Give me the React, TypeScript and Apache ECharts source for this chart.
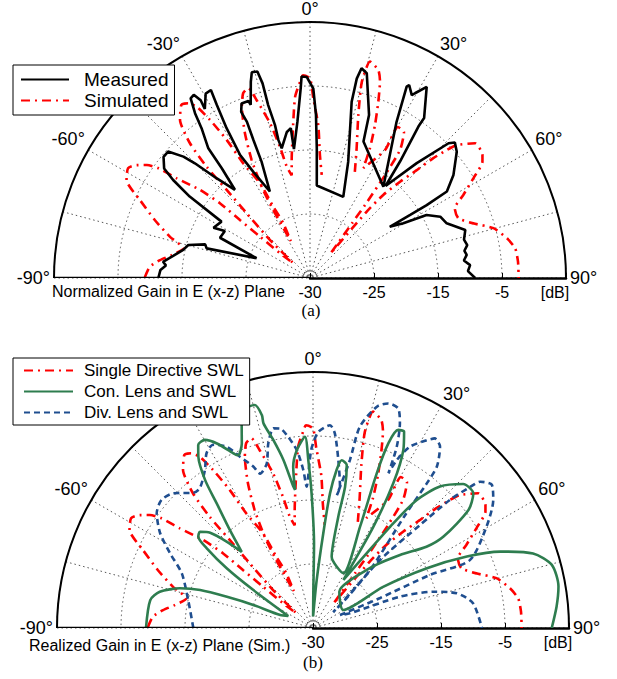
import React, { useEffect, useRef } from "react";
import * as echarts from "echarts";

const FONT = '"Liberation Sans", Arial, Helvetica, sans-serif';
const SERIF = '"Liberation Serif", "Times New Roman", serif';

// Angle (deg, 0 = broadside, + to the right), level (dB on the plot's linear radial scale)
const measuredE: ([number, number] | null)[] = [
  [-90, -11.3], [-86.9, -11.6], [-85, -12.4], [-83.7, -11.9], [-82, -12.8], [-80.7, -13.4],
  [-77.5, -14.7], [-74.8, -15.3], [-72.2, -17.8], [-74, -18.2], [-69.7, -26.1], [-65.9, -19.6],
  [-61.1, -19.8], [-62.5, -18.0], [-57.5, -18.6], [-55.9, -12.3], [-54.4, -8.7], [-53.1, -6.5],
  [-50.4, -5.3], [-48.3, -5.3], [-46.2, -7.6], [-45.1, -9.6], [-43.1, -13.7], [-40.4, -16.9],
  [-38.8, -13.0], [-38.1, -9.25], [-35.9, -6.1], [-34.9, -3.6], [-33.6, -1.3], [-32.4, -1.1],
  [-31.6, -2.4], [-31.9, -3.9], [-29.5, -1.9], [-27.8, -1.8], [-28.3, -4.3], [-29.1, -8.2],
  [-29.6, -12.9], [-28.1, -16.2], [-24.9, -20.1], [-22.6, -15.3], [-22.3, -11.7], [-22.0, -8.7],
  [-22.5, -6.9], [-21.4, -5.7], [-19.2, -5.7], [-18.9, -6.4], [-16.8, -3.0], [-15.8, -1.6],
  [-14.3, -1.7], [-13.7, -3.7], [-13.6, -7.2], [-12.9, -10.5], [-12.9, -12.9], [-12.3, -14.25],
  [-9.0, -11.9], [-7.3, -11.4], [-7.1, -14.7], [-4.6, -10.5], [-2.8, -5.3], [-2.4, -3.5],
  [-0.9, -3.6], [1.0, -5.4], [2.1, -9.5], [3.0, -14.7], [4.2, -20.5], [22.3, -21.3],
  [18.2, -15.9], [13.3, -6.7], [13.2, -3.0], [13.8, -1.25], [15.5, -1.8], [19.9, -7.9],
  [21.4, -12.1], [38.8, -16.7], [29.0, -7.1], [26.8, -1.5], [27.2, -1.1], [29.1, -2.3],
  [29.6, -1.8], [31.4, 0.0], [35.5, -4.3], [35.6, -5.9], [37.7, -12.0], [39.4, -16.4],
  [42.9, -10.5], [45.8, -4.8], [46.9, -4.0], [49.3, -4.75], [54.3, -7.4], [57.7, -9.7],
  [58.0, -13.5], [57.8, -16.5], [57.3, -20.2], [59.6, -18.1], [61.6, -14.3], [64.8, -12.5],
  [68.2, -12.0], [72.8, -9.6], [76, -10.2], [78.2, -9.9], [80, -10.5], [81.6, -10.25],
  [83.5, -10.8], [85.4, -9.9], [87.5, -10.3], [90, -9.2],
];

const simulatedSWL: ([number, number] | null)[] = [
  [-89.7, -9.2], [-86, -9.9], [-83.2, -11.4], [-80.6, -13.1], [-76.8, -14.7], [-73.6, -12.2],
  [-69.5, -9.1], [-65.4, -5.8], [-61.9, -2.5], [-58.9, -1.8], [-56.9, -2.7], [-55.3, -4.0],
  [-54.1, -5.75], [-53.2, -9.0], [-51.3, -13.0], [-50.3, -16.7], [-50.4, -20.8], [-50.4, -24.9],
  [-50.5, -28.9], [-48.5, -31.5], [-46.5, -26.4], [-44.4, -20.9], [-43.4, -16.1], [-42.9, -11.3],
  [-41.7, -6.8], [-39.4, -3.0], [-36.6, -1.3], [-34.9, -1.7], [-33.5, -2.9], [-32.3, -5.8],
  [-31.1, -9.8], [-30.2, -14.3], [-27.8, -18.3], [-27.2, -22.5], [-26.0, -25.5], [-27.5, -28.5],
  [-28.4, -22.9], [-27.9, -18.9], [-26.3, -14.4], [-24.2, -10.2], [-21.7, -6.2], [-19.9, -4.3],
  [-18.0, -3.8], [-16.7, -6.0], [-14.5, -10.0], [-12.9, -14.0], [-11.8, -17.2], [-10.1, -18.7],
  [-8.8, -16.3], [-6.2, -10.7], [-4.7, -6.6], [-2.9, -4.3], [-2.0, -3.3], [0, -3.8],
  [1.05, -6.9], [3.1, -11.1], [4.6, -15.7], [6.5, -18.8], null,
  [22.9, -17.0], [19.8, -13.5], [16.5, -8.4], [14.8, -3.3], [15.5, 0.1], [18.2, -0.8],
  [19.6, -2.4], [21.2, -5.5], [23.0, -9.0], [24.8, -12.7], [25.9, -15.9], [30.4, -11.8],
  [30.2, -7.7], [32.8, -7.9], [35.1, -10.5], [36.1, -15.1], [37.0, -20.7], [37.5, -24],
  [40, -30], [40.5, -21.4], [41.4, -17.7], [43.1, -14.4], [44.7, -11.3], [45.8, -8.2],
  [46.9, -5.7], [47.8, -4.1], [50.8, -1.7], [54.5, -1.9], [56.0, -2.5], [58.6, -5.1],
  [61.6, -7.8], [64.3, -9.9], [68.1, -10.0], [71.5, -8.1], [74.8, -5.3], [78.6, -3.6],
  [81.8, -2.6], [85.5, -2.4], [90, -2.4],
];

const conLensSWL: ([number, number] | null)[] = [
  [-90, -8.9], [-80.3, -9.2], [-76.7, -10.4], [-73.4, -13.3], [-71.4, -16.4], [-70.1, -20.7],
  [-68.9, -25.0], [-68.5, -29.5], [-64.1, -30.7], [-57.5, -23.9], [-55.3, -18.6], [-53.1, -14.2],
  [-51.5, -12.1], [-49.6, -11.8], [-47.2, -13.1], [-45, -15.9], [-43.1, -18.7], [-40.3, -14.9],
  [-37.7, -10.4], [-36.1, -6.4], [-33.8, -2.8], [-32.1, -1.25], [-29.9, -1.1], [-27.5, -2.5],
  [-24.5, -5.0], [-23.4, -5.6], [-21.1, -4.1], [-19.2, -1.1], [-17.8, 0.8], [-14.6, 1.0],
  [-13.5, -0.8], [-13.6, -2.1], [-11.9, -5.0], [-10.0, -8.3], [-7.9, -12.7], [-7.4, -13.25],
  [-7.0, -9.6], [-5.2, -7.1], [-2.4, -5.1], [-1.6, -8.75], [-0.6, -14.0], [0.7, -21.8],
  [0.5, -29.6], [0.5, -33.2], [4.4, -27.5], [6.2, -20.1], [7.2, -13.8], [8.5, -10.0],
  [9.7, -8.4], [11.7, -9.0], [12.8, -12.4], [12.8, -17.2], [14.7, -23.5], [29.0, -25.2],
  [24.9, -17.5], [22.4, -8.9], [22.2, -3.8], [23.3, -1.3], [24.9, -1.2], [26.9, -3.8],
  [29.0, -9.1], [30.8, -16.6], [32.3, -26.1], [35.7, -20.6], [37.5, -14.4], [39.0, -9.3],
  [41.9, -5.3], [46.2, -2.5], [50.0, -2.3], [52.8, -4.5], [55.0, -10.1], [54.4, -13.2],
  [50, -17.25], [43.5, -22.1], [36, -28], [59.3, -29.5], [59.6, -22.3], [62.3, -14.9],
  [65.1, -8.5], [67.8, -3.4], [71.3, 1.3], [75.2, 3.6], [80.4, 3.9], [85.0, 3.2], [90, 2.3],
];

const divLensSWL: ([number, number] | null)[] = [
  [-90, -16.3], [-77.3, -15.0], [-67.4, -12.8], [-62.4, -9.8], [-58.2, -6.9], [-53.7, -4.7],
  [-49.8, -4.0], [-46.0, -4.7], [-41.5, -6.8], [-39.0, -6.9], [-34.4, -5.1], [-31.3, -3.0],
  [-28.6, -2.4], [-25.5, -3.6], [-23.1, -5.9], [-20.3, -8.1], [-18.9, -9.5], [-15.7, -8.3],
  [-13.6, -5.3], [-11.2, -3.2], [-9.4, -3.4], [-7.4, -4.9], [-5.2, -7.1], [-3.5, -10.3],
  [-2.6, -12.9], [-0.6, -7.2], [1.5, -4.4], [4.8, -3.2], [6.4, -4.4], [8.6, -8.5],
  [10.8, -12.5], [10.2, -13.9], [12.4, -8.1], [13.1, -2.7], [16.1, 1.0], [18.5, 2.0],
  [21.2, 1.8], [23.0, -0.25], [24.8, -3.8], [26.0, -8.1], [26.5, -5.7], [28.1, -2.9],
  [31.2, -0.7], [32.7, 0.2], [35.0, -0.4], [37.5, -3.2], [38.2, -6.25], [39.2, -12.2],
  [44.5, -22.3], [52, -31.0], [48.8, -28.4], [44.6, -20.1], [46.1, -11.8], [46.9, -5.7],
  [48.1, -2.0], [48.8, -0.3], [51.3, 0.8], [54.6, -0.45], [59.7, -3.6], [66.6, -8.3],
  [65.6, -14.9], [65.9, -23.5], [64.3, -30.3], [68.3, -28.8], [70.2, -20.5], [73.2, -15.4],
  [76.4, -11.9], [81.2, -9.7], [90, -8.6],
];

const radialTicks = [-35, -25, -15, -5, 5];
const radialTickLabels = ["-30", "-25", "-15", "-5", "[dB]"];
const angleLabelStep = 30;

const toPolar = (pts: ([number, number] | null)[]) =>
  pts.map((p) => (p === null ? ["-", "-"] : [p[1], 90 - p[0]]));

const GRID = { color: "#555", width: 1, type: [1.5, 3] as number[] };

function angleAxis(polarIndex: number) {
  return {
    polarIndex,
    type: "value",
    min: 0,
    max: 180,
    interval: 15,
    startAngle: 0,
    endAngle: 180,
    clockwise: false,
    axisLine: { show: true, lineStyle: { color: "#000", width: 2 } },
    axisTick: { show: false },
    axisLabel: {
      show: true,
      margin: 4,
      color: "#000",
      fontSize: 18,
      fontFamily: FONT,
      formatter: (v: number) => (Math.round(v) % angleLabelStep === 0 ? `${90 - Math.round(v)}°` : ""),
    },
    splitLine: { show: true, lineStyle: GRID },
  };
}

function radiusAxis(polarIndex: number) {
  return {
    polarIndex,
    type: "value",
    min: -35,
    max: 5,
    interval: 10,
    axisLine: { show: true, lineStyle: { color: "#000", width: 2.5 } },
    axisTick: { show: true, inside: false, length: 5, lineStyle: { color: "#000", width: 1 } },
    axisLabel: {
      show: true,
      showMinLabel: true,
      showMaxLabel: true,
      margin: -22,
      color: "#000",
      fontSize: 16,
      fontFamily: FONT,
      formatter: (v: number) => {
        const i = radialTicks.indexOf(Math.round(v));
        if (i < 0) return "";
        return i === radialTicks.length - 1 ? `{db|${radialTickLabels[i]}}` : radialTickLabels[i];
      },
      rich: { db: { fontSize: 16, fontFamily: FONT, color: "#000", padding: [0, 22, 0, 0] } },
    },
    splitLine: { show: true, lineStyle: GRID },
  };
}

function frameSeries(polarIndex: number) {
  return [
    {
      type: "line",
      coordinateSystem: "polar",
      polarIndex,
      silent: true,
      symbol: "none",
      data: [[5, 180], [-35, 180]],
      lineStyle: { color: "#000", width: 2.5 },
      z: 3,
    },
    {
      type: "line",
      coordinateSystem: "polar",
      polarIndex,
      silent: true,
      symbol: "none",
      smooth: true,
      data: [0, 30, 60, 90, 120, 150, 180].map((a) => [-33.9, a]),
      lineStyle: { color: "#666", width: 1 },
      z: 1,
    },
  ];
}

function curve(name: string, polarIndex: number, pts: ([number, number] | null)[], color: string, type: any, smooth: number) {
  return {
    name,
    type: "line",
    coordinateSystem: "polar",
    polarIndex,
    symbol: "none",
    smooth,
    connectNulls: false,
    data: toPolar(pts),
    lineStyle: { color, width: 2.6, type, cap: "butt" },
    itemStyle: { color },
    z: 2,
  };
}

const legendBase = {
  orient: "vertical",
  left: 13,
  itemWidth: 48,
  itemHeight: 12,
  borderColor: "#000",
  borderWidth: 1,
  backgroundColor: "#fff",
  selectedMode: false,
  itemStyle: { opacity: 0 },
  z: 10,
};

export default function App() {
  const ref = useRef<HTMLDivElement>(null);
  useEffect(() => {
    if (!ref.current) return;
    const chart = echarts.init(ref.current, undefined, { renderer: "svg" });
    const RED = "#ff0000";
    const BLACK = "#000000";
    const GREEN = "#2e7d4f";
    const BLUE = "#1f4e8f";
    const dashDot = [9, 5, 2, 5];
    const option: any = {
      animation: false,
      backgroundColor: "#fff",
      polar: [
        { center: [310, 278], radius: 256 },
        { center: [313, 628], radius: 256 },
      ],
      angleAxis: [angleAxis(0), angleAxis(1)],
      radiusAxis: [radiusAxis(0), radiusAxis(1)],
      legend: [
        {
          ...legendBase,
          top: 65,
          padding: [5, 6, 5, 7],
          itemGap: 2,
          data: ["Measured", "Simulated"],
          textStyle: { fontSize: 19, lineHeight: 19, fontFamily: FONT, color: "#000", padding: [0, 0, 0, 10] },
        },
        {
          ...legendBase,
          top: 358,
          padding: [3, 6, 3, 10],
          itemWidth: 49,
          itemGap: 2,
          data: ["Single Directive SWL", "Con. Lens and SWL", "Div. Lens and SWL"],
          textStyle: { fontSize: 17, lineHeight: 19, fontFamily: FONT, color: "#000", padding: [0, 0, 0, 6] },
        },
      ],
      graphic: [
        { type: "text", x: 52, y: 291, style: { text: "Normalized Gain in E (x-z) Plane", font: `16px ${FONT}`, fill: "#000", textVerticalAlign: "middle" } },
        { type: "text", x: 29, y: 645, style: { text: "Realized Gain in E (x-z) Plane (Sim.)", font: `16px ${FONT}`, fill: "#000", textVerticalAlign: "middle" } },
        { type: "text", x: 311, y: 310, style: { text: "(a)", font: `17px ${SERIF}`, fill: "#000", textAlign: "center", textVerticalAlign: "middle" } },
        { type: "text", x: 313, y: 662, style: { text: "(b)", font: `17px ${SERIF}`, fill: "#000", textAlign: "center", textVerticalAlign: "middle" } },
      ],
      series: [
        ...frameSeries(0),
        ...frameSeries(1),
        curve("Simulated", 0, simulatedSWL, RED, dashDot, 0.2),
        curve("Measured", 0, measuredE, BLACK, "solid", 0),
        curve("Single Directive SWL", 1, simulatedSWL, RED, dashDot, 0.2),
        curve("Div. Lens and SWL", 1, divLensSWL, BLUE, [6, 4], 0.25),
        curve("Con. Lens and SWL", 1, conLensSWL, GREEN, "solid", 0.25),
      ],
    };
    chart.setOption(option);
    return () => chart.dispose();
  }, []);
  return <div ref={ref} style={{ position: "absolute", left: 0, top: 0, width: 617, height: 679 }} />;
}
